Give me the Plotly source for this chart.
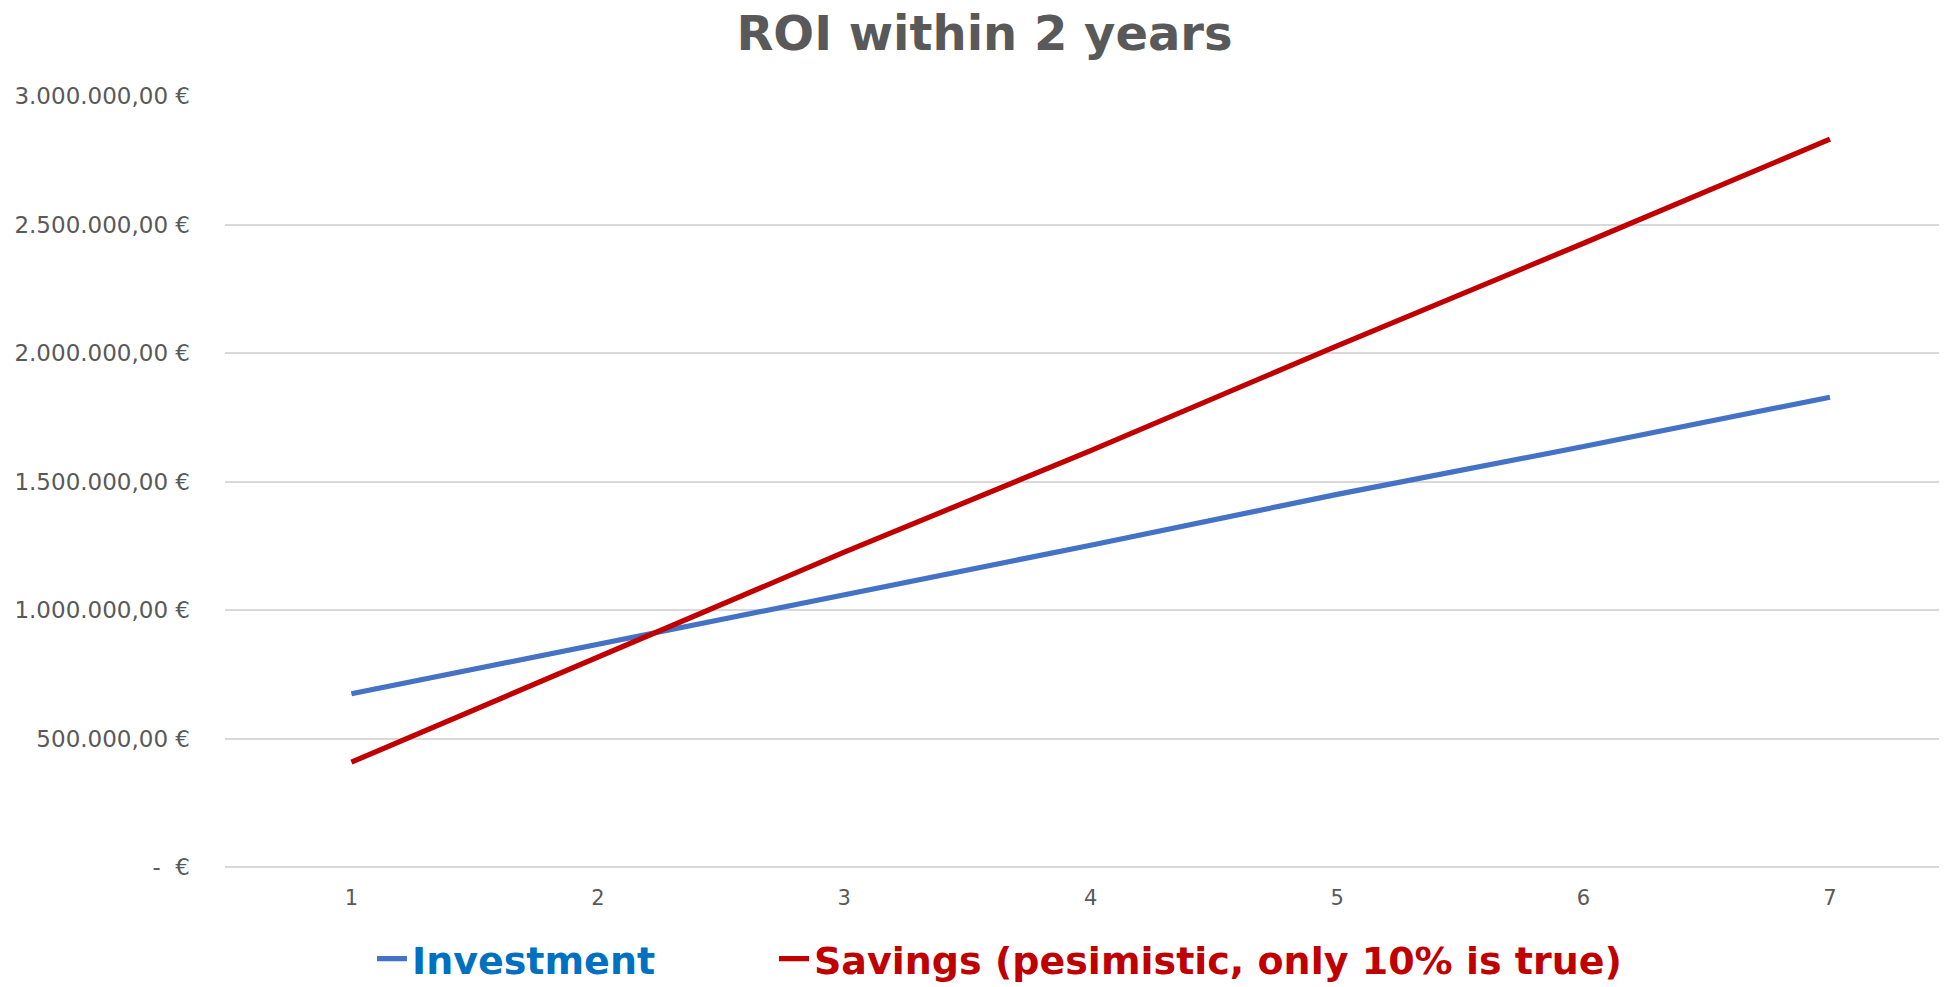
import plotly.graph_objects as go

# ---- data ----
years = [1, 2, 3, 4, 5, 6, 7]
investment = [674000, 866000, 1057000, 1252000, 1450000, 1636000, 1828000]
savings = [408000, 818000, 1225000, 1620000, 2028000, 2427000, 2832000]
y_tick_vals = [0, 500000, 1000000, 1500000, 2000000, 2500000, 3000000]
y_tick_text = ["-  €", "500.000,00 €", "1.000.000,00 €", "1.500.000,00 €",
               "2.000.000,00 €", "2.500.000,00 €", "3.000.000,00 €"]
title_text = "ROI within 2 years"
name_inv = "Investment"
name_sav = "Savings (pesimistic, only 10% is true)"

# page has an 8px body margin; figure sized to fit inside the window
W, H = 1939, 979

fig = go.Figure()
fig.add_trace(go.Scatter(
    x=years, y=investment, mode="lines",
    name="<b><span style='color:#0070C0'>" + name_inv + "</span></b>",
    line=dict(color="#4472C4", width=5.2),
    legend="legend",
))
fig.add_trace(go.Scatter(
    x=years, y=savings, mode="lines",
    name="<b><span style='color:#C00000'>" + name_sav + "</span></b>",
    line=dict(color="#C00000", width=5.2),
    legend="legend2",
))

legend_common = dict(
    orientation="h", xref="container", yref="container",
    xanchor="left", y=1 - 951 / H, yanchor="middle",
    font=dict(family="DejaVu Sans", size=38),
    bgcolor="rgba(0,0,0,0)",
)

fig.update_layout(
    width=W, height=H,
    paper_bgcolor="white", plot_bgcolor="white",
    margin=dict(l=217, r=0, t=88, b=H - 859),
    title=dict(
        text="<b>" + title_text + "</b>",
        x=976.5 / W, xref="container", xanchor="center",
        y=1 - 25 / H, yref="container", yanchor="middle",
        font=dict(family="DejaVu Sans", size=48, color="#595959"),
    ),
    xaxis=dict(
        range=[0.487, 7.475], tickmode="array", tickvals=years,
        ticktext=[str(v) for v in years],
        showgrid=False, zeroline=False, showline=False, ticks="",
        tickfont=dict(family="DejaVu Sans", size=21, color="#595959"),
        ticklabelstandoff=16,
    ),
    yaxis=dict(
        range=[0, 3000000], tickmode="array", tickvals=y_tick_vals,
        ticktext=y_tick_text,
        showgrid=True, gridcolor="#D9D9D9", gridwidth=1.5,
        zeroline=True, zerolinecolor="#D9D9D9", zerolinewidth=1.5,
        showline=False, ticks="",
        tickfont=dict(family="DejaVu Sans", size=23, color="#595959"),
        ticklabelstandoff=34,
    ),
    showlegend=True,
    legend=dict(x=364 / W, **legend_common),
    legend2=dict(x=766 / W, **legend_common),
)

fig.write_html("out.html")
